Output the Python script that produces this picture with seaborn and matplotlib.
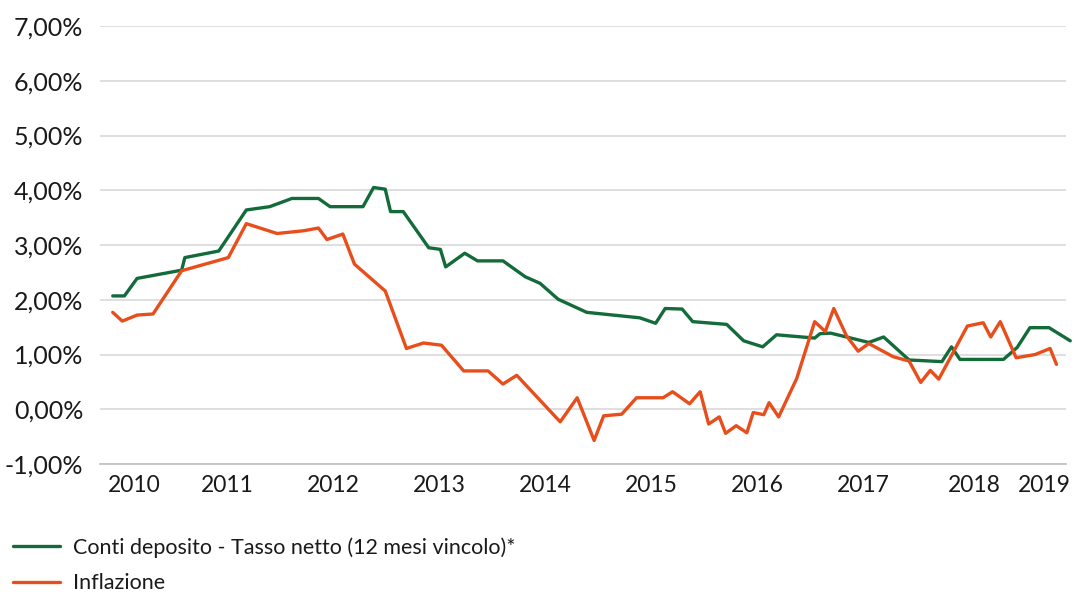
import pandas as pd
import numpy as np
import matplotlib
matplotlib.use('Agg')
import matplotlib.pyplot as plt
import seaborn as sns

# time axis in decimal years
depo_x = [2009.80, 2009.91, 2010.03, 2010.45, 2010.48, 2010.80, 2011.06, 2011.28, 2011.49, 2011.74,
          2011.85, 2012.16, 2012.26, 2012.37, 2012.42, 2012.54, 2012.78, 2012.89, 2012.94, 2013.12,
          2013.24, 2013.48, 2013.69, 2013.83, 2014.00, 2014.27, 2014.77, 2014.92, 2015.01, 2015.17,
          2015.27, 2015.59, 2015.75, 2015.93, 2016.06, 2016.42, 2016.47, 2016.57, 2016.72, 2016.93,
          2017.07, 2017.31, 2017.62, 2017.71, 2017.79, 2018.20, 2018.33, 2018.45, 2018.63, 2018.83]
depo_y = [2.07, 2.07, 2.39, 2.54, 2.77, 2.89, 3.64, 3.70, 3.85, 3.85,
          3.70, 3.70, 4.05, 4.02, 3.61, 3.61, 2.95, 2.92, 2.60, 2.85,
          2.71, 2.71, 2.42, 2.30, 2.01, 1.77, 1.67, 1.57, 1.84, 1.83,
          1.60, 1.55, 1.25, 1.14, 1.36, 1.30, 1.38, 1.39, 1.32, 1.22,
          1.32, 0.90, 0.87, 1.14, 0.91, 0.91, 1.13, 1.49, 1.49, 1.25]

infl_x = [2009.80, 2009.89, 2010.03, 2010.18, 2010.45, 2010.89, 2011.06, 2011.35, 2011.60, 2011.74,
          2011.82, 2011.97, 2012.08, 2012.37, 2012.57, 2012.73, 2012.90, 2013.11, 2013.34, 2013.48,
          2013.61, 2014.02, 2014.18, 2014.34, 2014.43, 2014.60, 2014.74, 2014.99, 2015.08, 2015.24,
          2015.34, 2015.42, 2015.52, 2015.58, 2015.68, 2015.78, 2015.84, 2015.94, 2015.99, 2016.08,
          2016.25, 2016.42, 2016.52, 2016.60, 2016.72, 2016.83, 2016.93, 2017.16, 2017.31, 2017.42,
          2017.51, 2017.59, 2017.86, 2018.01, 2018.08, 2018.17, 2018.32, 2018.50, 2018.64, 2018.70]
infl_y = [1.77, 1.61, 1.72, 1.74, 2.53, 2.77, 3.39, 3.21, 3.26, 3.31,
          3.10, 3.20, 2.65, 2.16, 1.11, 1.21, 1.17, 0.70, 0.70, 0.46,
          0.62, -0.23, 0.21, -0.57, -0.12, -0.09, 0.21, 0.21, 0.32, 0.10,
          0.32, -0.27, -0.14, -0.44, -0.30, -0.43, -0.06, -0.10, 0.12, -0.14,
          0.56, 1.60, 1.42, 1.84, 1.34, 1.06, 1.20, 0.96, 0.88, 0.49,
          0.71, 0.55, 1.52, 1.58, 1.32, 1.60, 0.94, 1.00, 1.11, 0.82]

series_names = ['Conti deposito - Tasso netto (12 mesi vincolo)*', 'Inflazione']
year_labels = ['2010', '2011', '2012', '2013', '2014', '2015', '2016', '2017', '2018', '2019']
year_pos = [2010.00, 2010.88, 2011.88, 2012.88, 2013.88, 2014.88, 2015.88, 2016.88, 2017.93, 2018.59]
y_ticks = [-1, 0, 1, 2, 3, 4, 5, 6, 7]

df = pd.concat([
    pd.DataFrame({'anno': depo_x, 'valore': depo_y, 'serie': series_names[0]}),
    pd.DataFrame({'anno': infl_x, 'valore': infl_y, 'serie': series_names[1]}),
])

sns.set_style('white')
plt.rcParams['font.family'] = ['Lato', 'DejaVu Sans']

colors = {series_names[0]: '#146b3a', series_names[1]: '#e84e1b'}

fig = plt.figure(figsize=(10.77, 5.92), dpi=100)
ax = fig.add_axes([100 / 1077, 1 - 464 / 592, 966 / 1077, 438 / 592])

sns.lineplot(data=df, x='anno', y='valore', hue='serie', palette=colors, estimator=None,
             linewidth=2.4, ax=ax, legend=False)
for line in ax.get_lines():
    line.set_clip_on(False)
    line.set_solid_joinstyle('round')

ax.set_xlim(2009.68, 2018.79)
ax.set_ylim(-1, 7)
ax.set_yticks(y_ticks)
ax.set_yticklabels([f'{v},00%' for v in y_ticks])
ax.set_xticks(year_pos)
ax.set_xticklabels(year_labels)
ax.set_xlabel('')
ax.set_ylabel('')

ax.grid(axis='y', color='#d9d9d9', linewidth=1.2)
ax.set_axisbelow(True)
for s in ['top', 'right', 'left']:
    ax.spines[s].set_visible(False)
ax.spines['bottom'].set_color('#bfbfbf')
ax.spines['bottom'].set_linewidth(1.2)
ax.tick_params(axis='y', length=0, pad=12, labelsize=18, labelcolor='#1a1a1a')
ax.tick_params(axis='x', length=0, pad=8, labelsize=16.5, labelcolor='#1a1a1a')

handles = [plt.Line2D([], [], color=colors[n], linewidth=2.4) for n in series_names]
fig.legend(handles, series_names, loc='upper left', bbox_to_anchor=(13 / 1077, 1 - 537 / 592),
           frameon=False, fontsize=15.5, handlelength=2.2, handletextpad=0.6, labelspacing=0.72,
           borderpad=0, borderaxespad=0, labelcolor='#1a1a1a')

fig.savefig('out.png', dpi=100, facecolor='white')
